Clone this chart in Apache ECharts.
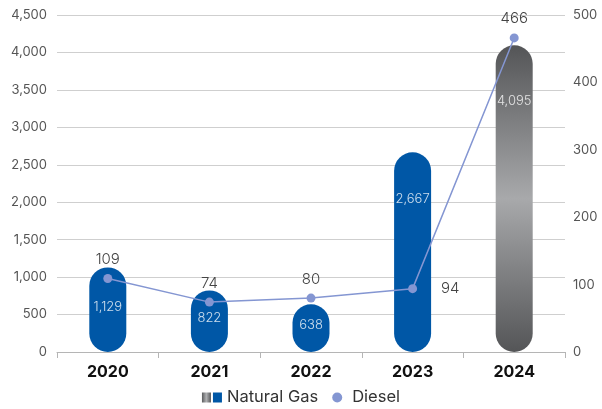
<!DOCTYPE html>
<html>
<head>
<meta charset="utf-8">
<script src="https://cdn.jsdelivr.net/npm/echarts@6/dist/echarts.min.js"></script>
<style>
  html, body { margin: 0; padding: 0; background: #fff; }
  #chart { width: 602px; height: 409px; }
</style>
</head>
<body>
<div id="chart"></div>
<script>
// Fuel consumption by year
const years = ['2020', '2021', '2022', '2023', '2024'];
const naturalGas = [1129, 822, 638, 2667, 4095];
const diesel = [109, 74, 80, 94, 466];
const leftTicks = { min: 0, max: 4500, interval: 500 };
const rightTicks = { min: 0, max: 500, interval: 100 };

const FONT = 'Inter, "Noto Sans", sans-serif';
const BLUE = '#0057a6';
const LINE = '#8496d2';

const grayGradient = new echarts.graphic.LinearGradient(0, 0, 0, 1, [
  { offset: 0, color: '#545557' },
  { offset: 0.5, color: '#a8a9ab' },
  { offset: 1, color: '#545557' }
]);

// Legend swatch: a gray square beside a blue square
const legendGradient = new echarts.graphic.LinearGradient(0, 0, 1, 0, [
  { offset: 0, color: '#5a5b5d' },
  { offset: 0.22, color: '#b0b1b3' },
  { offset: 0.44, color: '#5a5b5d' },
  { offset: 0.45, color: BLUE },
  { offset: 1, color: BLUE }
]);

const gasData = naturalGas.map((v, i) => {
  const last = i === naturalGas.length - 1;
  const tall = v > 2000;
  return {
    value: v,
    itemStyle: { color: last ? grayGradient : BLUE },
    label: tall
      ? { position: 'insideTop', distance: Math.round(22 + v / 150) }
      : { position: 'inside', offset: [0, -3] }
  };
});

const dieselData = diesel.map((v, i) => ({
  value: v,
  label: { position: i === 3 ? 'right' : 'top', distance: i === 3 ? 24 : 7 }
}));

const chart = echarts.init(document.getElementById('chart'), null, { renderer: 'canvas' });
chart.setOption({
  animation: false,
  textStyle: { fontFamily: FONT },
  grid: { left: 57, right: 37, top: 15, bottom: 57 },
  legend: {
    bottom: -2,
    left: 'center',
    itemGap: 14,
    itemWidth: 20,
    itemHeight: 10,
    textStyle: { fontFamily: FONT, fontSize: 16.5, color: '#333' },
    data: [
      {
        name: 'Natural Gas',
        icon: 'path://M0,0H9V10H0Z M11,0H20V10H11Z',
        itemStyle: { color: legendGradient }
      },
      { name: 'Diesel', icon: 'circle', itemWidth: 8 }
    ]
  },
  xAxis: {
    type: 'category',
    data: years,
    axisLine: { lineStyle: { color: '#b5b5b5' } },
    axisTick: { show: true, length: 6, lineStyle: { color: '#b5b5b5' } },
    axisLabel: { color: '#111', fontSize: 16, fontWeight: 'bold', margin: 12, fontFamily: FONT }
  },
  yAxis: [
    {
      type: 'value',
      min: leftTicks.min, max: leftTicks.max, interval: leftTicks.interval,
      axisLine: { show: false },
      axisTick: { show: false },
      splitLine: { lineStyle: { color: '#cfcfcf' } },
      axisLabel: {
        color: '#555', fontSize: 13, margin: 10, fontFamily: FONT,
        formatter: v => v.toLocaleString('en-US')
      }
    },
    {
      type: 'value',
      min: rightTicks.min, max: rightTicks.max, interval: rightTicks.interval,
      axisLine: { show: false },
      axisTick: { show: false },
      splitLine: { show: false },
      axisLabel: { color: '#555', fontSize: 13, margin: 8, fontFamily: FONT }
    }
  ],
  series: [
    {
      name: 'Natural Gas',
      type: 'bar',
      yAxisIndex: 0,
      barWidth: 37,
      itemStyle: { color: BLUE, borderRadius: 18.5 },
      label: {
        show: true,
        color: 'rgba(255,255,255,0.8)',
        fontSize: 13,
        fontWeight: 300,
        fontFamily: FONT,
        formatter: p => p.value.toLocaleString('en-US')
      },
      data: gasData
    },
    {
      name: 'Diesel',
      type: 'line',
      yAxisIndex: 1,
      symbol: 'circle',
      symbolSize: 9,
      lineStyle: { color: LINE, width: 1.5 },
      itemStyle: { color: LINE },
      label: { show: true, color: '#444', fontSize: 15, fontWeight: 300, fontFamily: FONT },
      data: dieselData,
      z: 5
    }
  ]
});
</script>
</body>
</html>
